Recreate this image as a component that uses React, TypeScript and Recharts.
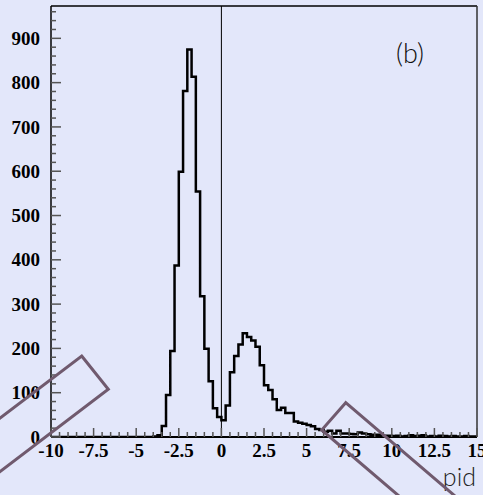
import { ComposedChart, Line, XAxis, YAxis, ReferenceLine } from "recharts";

// histogram of pid, 100 bins from -10 to 15
const BIN_START = -10;
const BIN_END = 15;
const BIN_WIDTH = 0.25;
const counts = [
  0, 0, 0, 0, 0, 0, 0, 0, 0, 0,
  0, 0, 0, 0, 0, 0, 0, 0, 0, 0,
  0, 0, 0, 0, 1, 4, 25, 95, 194, 387,
  599, 781, 875, 813, 554, 318, 199, 126, 65, 45,
  38, 71, 146, 183, 209, 234, 226, 218, 204, 162,
  117, 106, 85, 61, 66, 54, 54, 35, 32, 30,
  27, 24, 18, 16, 12, 14, 8, 14, 8, 8,
  7, 6, 10, 8, 6, 5, 5, 4, 3, 3,
  2, 3, 1, 2, 4, 2, 3, 4, 1, 2,
  1, 3, 2, 1, 2, 1, 1, 2, 1, 1,
];

const Y_MAX = 973;
const xMajor = [-10, -7.5, -5, -2.5, 0, 2.5, 5, 7.5, 10, 12.5, 15];
const yMajor = [0, 100, 200, 300, 400, 500, 600, 700, 800, 900];

const xTicks: number[] = [];
for (let v = BIN_START; v <= BIN_END; v += 0.5) xTicks.push(v);
const yTicks: number[] = [];
for (let v = 0; v <= 960; v += 20) yTicks.push(v);

const histData = counts.map((c, i) => ({ x: BIN_START + i * BIN_WIDTH, y: c }));
histData.push({ x: BIN_END, y: counts[counts.length - 1] });

const BG = "#e3e7fa";
const BOX = "#705a6e";
const labelFont = "'Liberation Serif', 'Times New Roman', serif";

const XTick = ({ x, y, payload }: any) => {
  const major = xMajor.includes(payload.value);
  return (
    <g>
      <line x1={x} x2={x} y1={y} y2={y - (major ? 9 : 5)} stroke="#555" strokeWidth={1.5} />
      {major && (
        <text x={x} y={y + 20} textAnchor="middle" fontFamily={labelFont} fontWeight="bold" fontSize={19} fill="#000">
          {payload.value}
        </text>
      )}
    </g>
  );
};

const YTick = ({ x, y, payload }: any) => {
  const major = yMajor.includes(payload.value);
  return (
    <g>
      <line x1={x} x2={x + (major ? 10 : 5)} y1={y} y2={y} stroke="#555" strokeWidth={1.5} />
      {major && (
        <text x={x - 11} y={y} dy="0.35em" textAnchor="end" fontFamily={labelFont} fontWeight="bold" fontSize={19} fill="#000">
          {payload.value}
        </text>
      )}
    </g>
  );
};

export default function App() {
  return (
    <div style={{ position: "absolute", left: 0, top: 0, width: 483, height: 495, background: BG, overflow: "hidden" }}>
      <ComposedChart width={483} height={495} data={histData} margin={{ top: 6, right: 6, bottom: 0, left: 0 }}>
        <XAxis
          dataKey="x"
          type="number"
          domain={[BIN_START, BIN_END]}
          ticks={xTicks}
          interval={0}
          allowDataOverflow
          height={58}
          tickSize={0}
          tickMargin={0}
          tickLine={false}
          axisLine={{ stroke: "#000", strokeWidth: 2 }}
          tick={<XTick />}
        />
        <YAxis
          type="number"
          domain={[0, Y_MAX]}
          ticks={yTicks}
          interval={0}
          allowDataOverflow
          width={51}
          tickSize={0}
          tickMargin={0}
          tickLine={false}
          axisLine={{ stroke: "#000", strokeWidth: 1.5 }}
          tick={<YTick />}
        />
        <ReferenceLine y={Y_MAX} stroke="#000" strokeWidth={1.5} />
        <ReferenceLine x={BIN_END} stroke="#333" strokeWidth={1.5} />
        <ReferenceLine x={0} stroke="#000" strokeWidth={1} />
        <Line
          dataKey="y"
          type="stepAfter"
          stroke="#000"
          strokeWidth={2.5}
          dot={false}
          isAnimationActive={false}
        />
      </ComposedChart>
      <svg width={483} height={495} style={{ position: "absolute", left: 0, top: 0, pointerEvents: "none" }}>
        <text x={410} y={63} textAnchor="middle" fontFamily="Lato, 'DejaVu Sans', sans-serif" fontWeight={300} fontSize={27} fill="#111">
          (b)
        </text>
        <text x={476} y={486} textAnchor="end" fontFamily="Lato, 'DejaVu Sans', sans-serif" fontWeight={300} fontSize={25} fill="#222">
          pid
        </text>
        <polygon points="81.7,356 108.3,389.3 -130.5,570.8 -157.1,537.5" fill="none" stroke={BOX} strokeWidth={3} />
        <polygon points="345.7,402.7 321.7,430 549.7,624.7 573.7,597.4" fill="none" stroke={BOX} strokeWidth={3} />
      </svg>
    </div>
  );
}
